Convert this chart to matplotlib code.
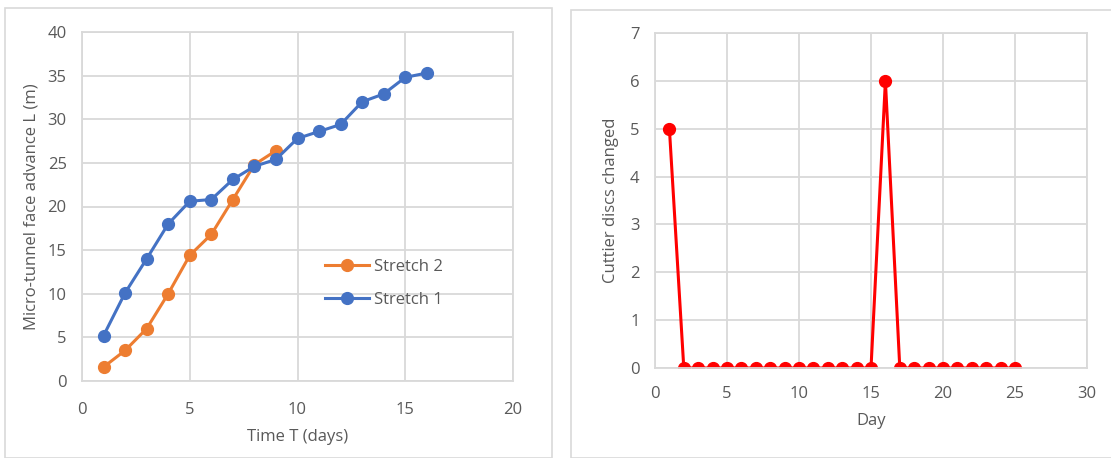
import matplotlib.pyplot as plt
from matplotlib.patches import Rectangle

# left chart data
days1 = list(range(1, 17))
stretch1 = [5.2, 10.1, 14.0, 18.0, 20.6, 20.8, 23.1, 24.6, 25.4, 27.8, 28.6, 29.4, 32.0, 32.9, 34.8, 35.3]
days2 = list(range(1, 10))
stretch2 = [1.6, 3.5, 6.0, 10.0, 14.4, 16.8, 20.8, 24.8, 26.4]

# right chart data
days3 = list(range(1, 26))
discs = [5, 0, 0, 0, 0, 0, 0, 0, 0, 0, 0, 0, 0, 0, 0, 6, 0, 0, 0, 0, 0, 0, 0, 0, 0]

GRID = '#d9d9d9'
TXT = '#595959'
W, H = 1111, 458
FS = 12

plt.rcParams['font.family'] = ['Open Sans', 'DejaVu Sans']
fig = plt.figure(figsize=(W / 100, H / 100), dpi=100)

# chart frames
fig.patches.append(Rectangle((5 / W, 0), 547 / W, 1 - 8 / H, transform=fig.transFigure,
                             fill=False, edgecolor=GRID, lw=1.2))
fig.patches.append(Rectangle((571 / W, 0), 545 / W, 1 - 10 / H, transform=fig.transFigure,
                             fill=False, edgecolor=GRID, lw=1.2))

def axbox(x0, y0, x1, y1):
    return fig.add_axes([x0 / W, 1 - y1 / H, (x1 - x0) / W, (y1 - y0) / H])

def style(ax, xpad):
    ax.grid(True, color=GRID, lw=1.3)
    ax.set_axisbelow(True)
    for s in ax.spines.values():
        s.set_color(GRID)
        s.set_linewidth(1.3)
    ax.tick_params(length=0, colors=TXT, labelsize=FS)
    ax.tick_params(axis='x', pad=xpad)
    ax.tick_params(axis='y', pad=11)

ax1 = axbox(82, 32, 513, 381)
ax1.plot(days2, stretch2, '-o', color='#ED7D31', lw=2.2, ms=8.5, label='Stretch 2')
ax1.plot(days1, stretch1, '-o', color='#4472C4', lw=2.2, ms=8.5, label='Stretch 1')
ax1.set_xlim(0, 20)
ax1.set_ylim(0, 40)
ax1.set_xticks(range(0, 21, 5))
ax1.set_yticks(range(0, 41, 5))
style(ax1, 15)
ax1.set_xlabel('Time T (days)', color=TXT, fontsize=FS, labelpad=8)
ax1.set_ylabel('Micro-tunnel face advance L (m)', color=TXT, fontsize=FS, labelpad=6)
leg = ax1.legend(loc='center left', bbox_to_anchor=(0.53, 0.28), frameon=False,
                 fontsize=FS, handlelength=2.6, labelspacing=1.0, handletextpad=0.3)
for t in leg.get_texts():
    t.set_color(TXT)

ax2 = axbox(655, 33, 1087, 368)
ax2.plot(days3, discs, '-o', color='#FF0000', lw=2.2, ms=8.5)
ax2.set_xlim(0, 30)
ax2.set_ylim(0, 7)
ax2.set_xticks(range(0, 31, 5))
ax2.set_yticks(range(0, 8))
style(ax2, 13)
ax2.set_xlabel('Day', color=TXT, fontsize=FS, labelpad=8)
ax2.set_ylabel('Cuttier discs changed', color=TXT, fontsize=FS, labelpad=8)

fig.savefig('out.png', dpi=100)
